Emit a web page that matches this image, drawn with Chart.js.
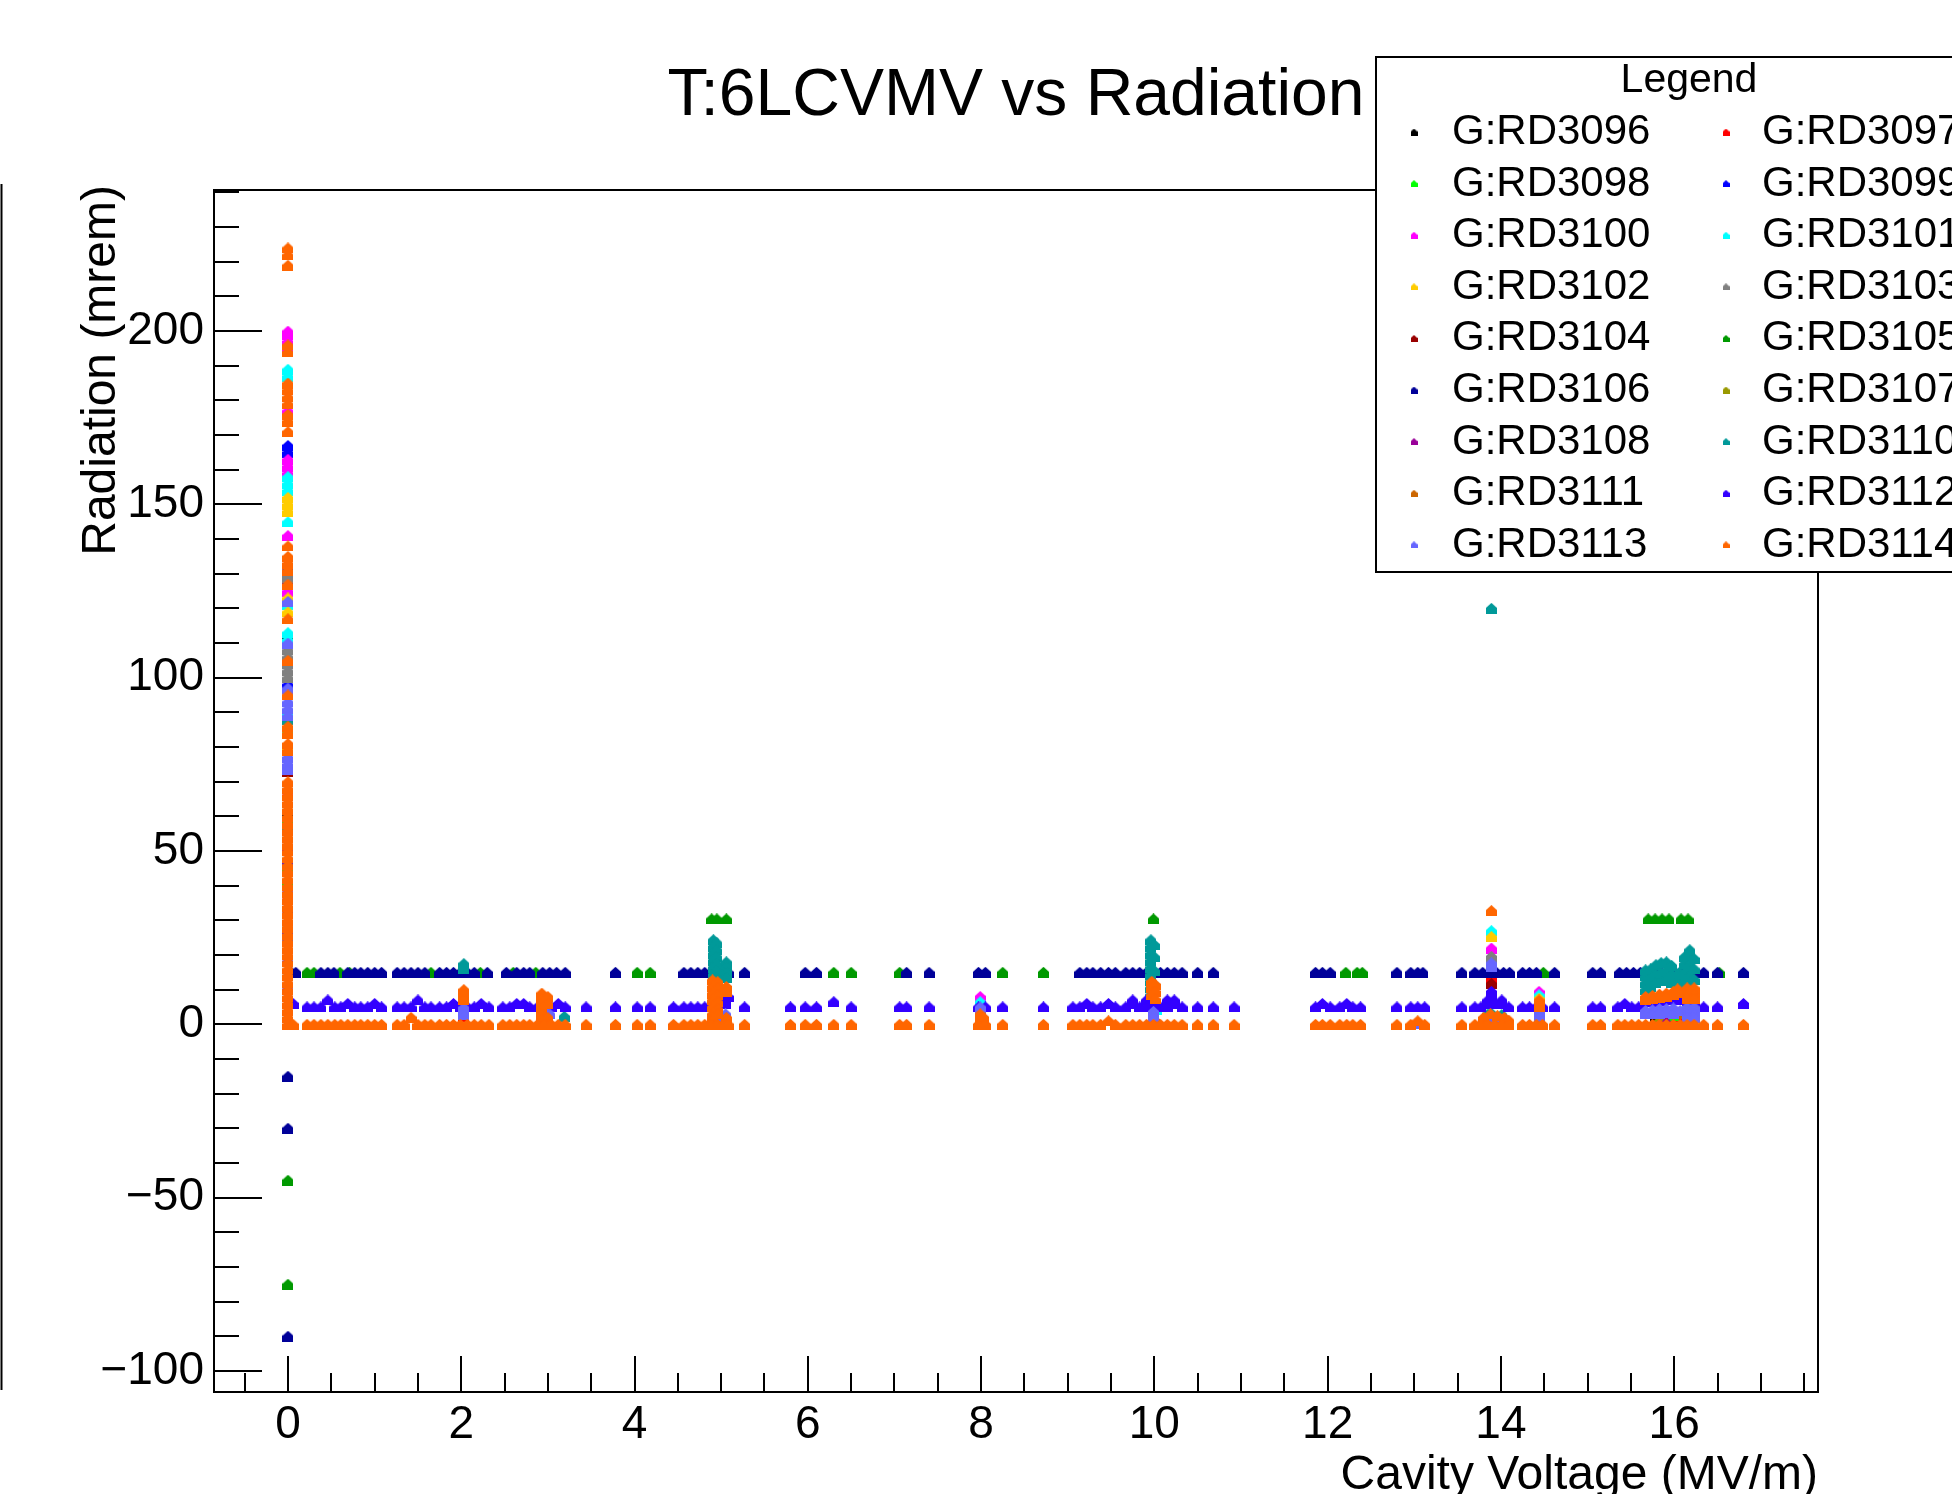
<!DOCTYPE html>
<html><head><meta charset="utf-8">
<script src="https://cdn.jsdelivr.net/npm/chart.js@4.4.1/dist/chart.umd.min.js"></script>
<style>html,body{margin:0;padding:0;background:#fff;overflow:hidden}#wrap{width:1952px;height:1494px;position:relative}</style>
</head><body><div id="wrap"><canvas id="c" width="1952" height="1494"></canvas></div>
<script>
const FONT = '"Liberation Sans", Arial, Helvetica, sans-serif';
const chartTitle = 'T:6LCVMV vs Radiation';
const xTitle = 'Cavity Voltage (MV/m)';
const yTitle = 'Radiation (mrem)';
const legendTitle = 'Legend';

const seriesNames = ['G:RD3096','G:RD3097','G:RD3098','G:RD3099','G:RD3100','G:RD3101','G:RD3102','G:RD3103','G:RD3104','G:RD3105','G:RD3106','G:RD3107','G:RD3108','G:RD3110','G:RD3111','G:RD3112','G:RD3113','G:RD3114'];
const seriesColors = ['#000000','#ff0000','#00ff00','#0000ff','#ff00ff','#00ffff','#ffcc00','#808080','#990000','#009900','#000099','#999900','#990099','#009999','#cc6600','#3300ff','#6666ff','#ff6600'];

// Cavity voltages where the low bands (G:RD3112 ~5, G:RD3114 ~0) were sampled
const voltage = [
 0.06,0.22,0.30,0.38,0.46,0.54,0.61,0.69,0.77,0.84,
 0.92,1.00,1.08,1.26,1.34,1.42,1.50,1.58,1.65,1.75,
 1.83,1.91,1.99,2.07,2.15,2.23,2.32,2.48,2.56,2.64,
 2.72,2.79,2.88,2.96,3.04,3.12,3.20,3.44,3.78,4.03,
 4.18,4.45,4.57,4.65,4.73,4.81,4.89,4.96,5.03,5.08,
 5.27,5.80,5.97,6.10,6.30,6.50,7.06,7.14,7.40,7.97,
 8.05,8.25,8.72,9.06,9.14,9.22,9.29,9.38,9.47,9.55,
 9.67,9.75,9.83,9.91,9.99,10.07,10.15,10.23,10.32,10.50,
 10.68,10.92,11.86,11.94,12.03,12.14,12.22,12.29,12.38,12.80,
 12.96,13.04,13.12,13.55,13.70,13.77,13.85,13.93,14.01,14.09,
 14.25,14.33,14.41,14.48,14.62,15.06,15.15,15.35,15.43,15.51,
 15.59,15.67,15.75,15.83,15.91,15.99,16.07,16.15,16.23,16.34,
 16.50,16.80];
const band0_RD3114 = [
 0,0,0,0,0,0,0,0,0,0,
 0,0,0,0,0,2,0,0,0,0,
 0,0,0,0,0,0,0,0,0,0,
 0,0,0,0,0,0,0,0,0,0,
 0,0,0,0,0,0,0,0,0,0,
 0,0,0,0,0,0,0,0,0,0,
 0,0,0,0,0,0,0,0,1,0,
 0,0,0,0,0,0,0,0,0,0,
 0,0,0,0,0,0,0,0,0,0,
 0,1,0,0,0,0,0,0,0,0,
 0,0,0,0,0,0,0,0,0,0,
 0,0,0,0,0,0,0,0,0,0,
 0,0];
const band5_RD3112 = [
 6,5,5,5,7,5,5,6,5,5,
 5,6,5,5,5,5,7,5,5,5,
 5,6,5,5,5,6,5,5,5,6,
 6,5,5,6,5,6,5,5,5,5,
 5,5,5,5,5,5,5,5,7,8,
 5,5,5,5,6.5,5,5,5,5,5,
 5,5,5,5,5,6,5,5,6,5,
 5,6,5,5,6,5,5,6,5,5,
 5,5,5,6,5,5,6,5,5,5,
 5,5,5,5,5,5,6,6,6,5,
 5,5,5,5,5,5,5,5,6,5,
 5,6.5,6.6,6.8,7,7,7,6.8,6.5,5,
 5,6];

// Other readings per gauge: [cavity voltage, radiation]
const RD3096 = [[0,112],[0,61],[2.97,1.9],[13.89,12.3],[15.79,1.5],[10.0,0.8]];
const RD3097 = [[0,66],[0,36],[2.03,2.3],[13.89,13.8],[13.89,13],[15.91,2],[16.07,2.2]];
const RD3098 = [[0,84],[0,59],[0,41],[7.99,2.5],[15.83,3],[15.99,2.6],[13.89,2.2]];
const RD3099 = [[0,167],[0,165],[0,128],[0,98],[0,56],[0,24]];
const RD3100 = [[0,200],[0,199],[0,197],[0,195],[0,177],[0,163],[0,161],[0,159],[0,141],[0,125],[13.89,22],[14.44,9.5],[7.99,8],[5.01,9.2]];
const RD3101 = [[0,189],[0,187],[0,158],[0,156],[0,154],[0,145],[0,121],[0,113],[0,111],[0,90],[13.89,27],[14.44,8.5],[5.01,8.5],[7.99,6.5],[10.02,4.3],[16.15,6]];
const RD3102 = [[0,152],[0,150],[0,148],[0,123],[0,119],[0,80],[13.89,25.3],[7.99,4.5],[14.44,7.5]];
const RD3103 = [[0,130],[0,129],[0,108],[0,106],[0,104],[0,102],[0,100],[13.89,19.6],[13.89,18.8],[2.97,2.6],[16.15,1]];
const RD3104 = [[0,73],[0,32],[13.89,11.8],[10.0,1.2]];
const RD3105 = [[4.89,30.4],[4.95,30.4],[5.06,30.4],[9.99,30.4],[15.70,30.4],[15.78,30.4],[15.86,30.4],[15.94,30.4],[16.08,30.4],[16.16,30.4],
 [0.22,15],[0.30,15],[0.60,15],[0.71,15],[1.65,15],[2.22,15],[2.60,15],[2.86,15],[4.03,15],[4.18,15],[6.30,15],[6.50,15],[7.06,15],[8.25,15],[8.72,15],[12.21,15],[12.34,15],[12.40,15],[14.49,15],[16.52,15],
 [0,-45],[0,-75]];
const RD3106 = [[0.04,15],[0.09,15],[0.38,15],[0.46,15],[0.53,15],[0.69,15],[0.77,15],[0.84,15],[0.92,15],[1.00,15],[1.08,15],[1.26,15],[1.34,15],[1.42,15],[1.50,15],[1.58,15],
 [1.75,15],[1.83,15],[1.91,15],[1.99,15],[2.07,15],[2.15,15],[2.30,15],[2.52,15],[2.64,15],[2.72,15],[2.79,15],[2.94,15],[3.02,15],[3.10,15],[3.20,15],[3.78,15],
 [4.57,15],[4.65,15],[4.73,15],[4.81,15],[4.89,15],[4.96,15],[5.03,15],[5.08,15],[5.27,15],[5.97,15],[6.10,15],[7.14,15],[7.40,15],[7.97,15],[8.05,15],
 [9.14,15],[9.22,15],[9.29,15],[9.38,15],[9.47,15],[9.55,15],[9.67,15],[9.75,15],[9.83,15],[9.91,15],[9.99,15],[10.07,15],[10.15,15],[10.23,15],[10.32,15],[10.50,15],[10.68,15],
 [11.86,15],[11.94,15],[12.03,15],[12.80,15],[12.96,15],[13.04,15],[13.10,15],[13.55,15],[13.70,15],[13.79,15],[13.87,15],[13.95,15],[14.03,15],[14.10,15],[14.25,15],[14.33,15],[14.41,15],[14.62,15],
 [15.06,15],[15.15,15],[15.37,15],[15.45,15],[15.53,15],[15.61,15],[15.69,15],[15.77,15],[15.85,15],[15.93,15],[16.01,15],[16.09,15],[16.17,15],[16.24,15],[16.34,15],[16.50,15],[16.80,15],
 [0,-15],[0,-30],[0,-90],[0,131]];
const RD3107 = [[0,45],[15.83,1],[13.89,1]];
const RD3108 = [[0,51],[13.85,0.5],[15.91,0.5],[9.99,0.5]];
const RD3110 = [[0,57],[0,88],[2.03,17.5],[2.03,16.2],[3.19,2.3],
 [4.91,24.4],[4.91,22.5],[4.91,20.5],[4.91,18.5],[4.91,16.5],[4.91,14.5],[4.95,23.5],[4.95,21.5],[4.95,19.5],[4.95,17.5],[4.95,15.5],[4.95,13.5],[5.06,18],[5.06,16.5],[5.06,15],[5.06,13.5],
 [9.96,24.4],[9.96,22.5],[9.96,20.5],[9.96,18.5],[9.96,16.5],[9.96,14.5],[9.96,12.5],[9.96,10.5],[9.96,8.5],[10.0,23],[10.0,19.5],[10.0,15.5],[10.0,11.5],
 [13.89,120],[13.89,3.2],[13.85,3],[14.01,2.8],
 [15.67,10],[15.67,12],[15.67,14],[15.67,15.7],[15.73,11],[15.73,13.5],[15.73,16],[15.79,17.2],[15.79,14.5],[15.79,12],[15.85,12.5],[15.85,15],[15.85,17.8],
 [15.91,13],[15.91,15.5],[15.91,18],[15.97,12],[15.97,14.5],[15.97,17],[16.06,11],[16.06,13],[16.06,15],[16.12,10],[16.12,12.5],[16.12,15],[16.12,17.5],[16.12,19.5],
 [16.18,11],[16.18,14],[16.18,17],[16.18,20],[16.18,21.5],[16.23,10],[16.23,13],[16.23,16],[16.23,19]];
const RD3111 = [[0,28],[0,14],[16.07,3.2],[4.96,1]];
const RD3112 = [[0.03,6],[0,47],[0,38],[0,27],[0,18],[0,10],[13.89,9.5],[13.89,8],[13.85,7],[14.01,7],[13.89,6.5],[5.05,7],[5.05,6],[9.75,7],[9.91,7],[10.15,7],[10.23,7]];
const RD3113 = [[0,97],[0,95],[0,93],[0,91],[0,89],[0,77],[0,75],[0,73.5],[0,122],[0,110],
 [2.03,4.8],[2.03,3.8],[2.03,2.8],[2.95,4.5],[2.95,3.5],[3.02,3],
 [4.93,3.3],[4.93,2.3],[4.93,1.3],[5.05,3],[5.05,2],
 [7.99,5],[7.99,4],[7.99,3],[7.99,2],[8.03,1.5],
 [9.99,3.7],[9.99,2.8],[9.99,1.9],
 [13.89,17.7],[13.89,16.8],[13.85,2],[13.89,1.5],[14.01,1],
 [14.44,4],[14.44,3],[14.44,2],
 [15.67,4],[15.67,3],[15.75,4.2],[15.75,3],[15.83,4.5],[15.83,3.2],[15.91,4.5],[15.91,3.5],[15.99,4.7],[15.99,3],[16.07,4],
 [16.15,5],[16.15,4],[16.15,3],[16.15,2],[16.23,5],[16.23,4],[16.23,3],[16.23,2],[13.04,0.3]];
const RD3114 = [[0,224],[0,222],[0,219],[0,196],[0,194],[0,185],[0,183],[0,181],[0,179],[0,176],[0,174],[0,171],
 [0,138],[0,135],[0,133],[0,131],[0,127],[0,117],[0,105],[0,95],[0,86],[0,84],[0,81],[0,79],
 [0,70],[0,68],[0,66],[0,64],[0,62],[0,60],[0,58],[0,56],[0,54],[0,52],[0,50],[0,48],[0,46],[0,44],[0,42],[0,40],[0,38],[0,36],
 [0,34],[0,32],[0,30],[0,28],[0,26],[0,24],[0,22],[0,20],[0,18],[0,16],[0,14],[0,12],[0,10],[0,8],[0,6],[0,4],[0,2],[0,0],
 [2.03,10],[2.03,8.5],[2.03,7],
 [2.93,9],[2.93,7.5],[2.93,6],[2.93,4.5],[2.93,3],[2.93,1.5],[3.0,8],[3.0,6],[3.0,2],
 [4.90,12.8],[4.90,11],[4.90,9],[4.90,7],[4.90,5],[4.90,3],[4.90,1.5],[4.96,12.3],[4.96,10.5],[4.96,8.5],[4.96,6.5],[4.96,4.5],[4.96,3],[5.06,10.9],[5.06,9.5],[5.06,2],[5.06,1],
 [7.99,3],[7.99,1.5],[8.03,2],
 [9.97,12.4],[9.97,10.5],[9.97,8.5],[10.01,11.5],[10.01,9.5],[10.01,7.3],
 [13.89,32.8],[13.80,2],[13.88,3],[13.96,2.5],[14.04,2],[14.09,1.2],
 [14.44,7],[14.44,6],[14.44,5],
 [15.67,8],[15.67,7],[15.75,8.3],[15.75,7.3],[15.83,8.7],[15.83,7.7],[15.91,9],[15.91,8],[15.99,9.5],[15.99,8.5],[16.04,10.2],[16.04,9.2],
 [16.15,10.5],[16.15,9.5],[16.15,8.5],[16.15,7.5],[16.23,10.5],[16.23,9.5],[16.23,8.5],[16.23,7.5]];

const seriesPoints = [RD3096,RD3097,RD3098,RD3099,RD3100,RD3101,RD3102,RD3103,RD3104,RD3105,RD3106,RD3107,RD3108,RD3110,RD3111,RD3112,RD3113,RD3114];

const xMin = -0.854, xMax = 17.66, yMin = -106.1, yMax = 240.7;

// small "house" shaped marker like the ROOT dot marker
function makeMarker(color, w, h) {
  const cv = document.createElement('canvas');
  cv.width = w; cv.height = h;
  const g = cv.getContext('2d');
  g.fillStyle = color;
  g.beginPath();
  g.moveTo(0, h); g.lineTo(0, h * 0.45); g.lineTo(w / 2, 0); g.lineTo(w, h * 0.45); g.lineTo(w, h);
  g.closePath(); g.fill();
  return cv;
}

const datasets = seriesNames.map((name, i) => {
  const pts = seriesPoints[i].map(p => ({x: p[0], y: p[1]}));
  if (name === 'G:RD3112') voltage.forEach((v, k) => pts.push({x: v, y: band5_RD3112[k]}));
  if (name === 'G:RD3114') voltage.forEach((v, k) => pts.push({x: v, y: band0_RD3114[k]}));
  return {label: name, data: pts, backgroundColor: seriesColors[i], borderColor: seriesColors[i],
    pointRadius: 5.5, pointHoverRadius: 5.5, pointBorderWidth: 0,
    pointStyle: makeMarker(seriesColors[i], 11, 11),
    order: seriesNames.length - 1 - i};
});

const bgPlugin = {id: 'bg', beforeDraw(chart) {
  const c = chart.ctx; c.save(); c.fillStyle = '#fff'; c.fillRect(0, 0, chart.width, chart.height); c.restore();
}};

const framePlugin = {id: 'frame', afterDatasetsDraw(chart) {
  const c = chart.ctx, a = chart.chartArea, xs = chart.scales.x, ys = chart.scales.y;
  c.save();
  c.strokeStyle = '#000'; c.lineWidth = 2;
  c.strokeRect(a.left, a.top, a.right - a.left, a.bottom - a.top);
  c.lineWidth = 2;
  c.beginPath();
  for (let k = -1; k <= 35; k++) {
    const v = k * 0.5; if (v < xMin || v > xMax) continue;
    const px = Math.round(xs.getPixelForValue(v));
    const len = (k % 4 === 0) ? 36 : 19;
    c.moveTo(px, a.bottom); c.lineTo(px, a.bottom - len);
  }
  for (let k = -10; k <= 24; k++) {
    const v = k * 10; if (v < yMin || v > yMax) continue;
    const py = Math.round(ys.getPixelForValue(v));
    const len = (k % 5 === 0) ? 48 : 25;
    c.moveTo(a.left, py); c.lineTo(a.left + len, py);
  }
  c.stroke();
  // stray frame edge at the far left of the picture
  c.beginPath(); c.moveTo(1.5, 184); c.lineTo(1.5, 1390); c.stroke();
  c.restore();
}};

const textPlugin = {id: 'texts', afterDraw(chart) {
  const c = chart.ctx, a = chart.chartArea;
  c.save();
  c.fillStyle = '#000'; c.textBaseline = 'alphabetic';
  c.font = '66px ' + FONT; c.textAlign = 'center';
  c.fillText(chartTitle, (a.left + a.right) / 2, 115);
  c.font = '48px ' + FONT; c.textAlign = 'right';
  c.fillText(xTitle, a.right, 1489);
  c.translate(115, a.top - 5); c.rotate(-Math.PI / 2);
  c.textAlign = 'right';
  c.fillText(yTitle, 0, 0);
  c.restore();

  // legend box
  c.save();
  c.fillStyle = '#fff'; c.fillRect(1376, 57, 700, 515);
  c.strokeStyle = '#000'; c.lineWidth = 2; c.strokeRect(1376, 57, 700, 515);
  c.fillStyle = '#000'; c.font = '41px ' + FONT; c.textAlign = 'center'; c.textBaseline = 'alphabetic';
  c.fillText(legendTitle, 1689, 92);
  c.font = '42px ' + FONT;
  c.textAlign = 'left';
  seriesNames.forEach((n, i) => {
    const col = i % 2, row = Math.floor(i / 2);
    const by = 144 + row * 51.6;
    const mx = col ? 1726 : 1414, tx = col ? 1762 : 1452;
    c.drawImage(makeMarker(seriesColors[i], 7, 7), mx - 3.5, by - 15.5);
    c.fillStyle = '#000';
    c.fillText(n, tx, by);
  });
  c.restore();
}};

const fmt = v => (v < 0 ? '\u2212' + Math.abs(v) : String(v));

new Chart(document.getElementById('c').getContext('2d'), {
  type: 'scatter',
  data: {datasets},
  options: {
    responsive: false, animation: false, devicePixelRatio: 1,
    layout: {padding: {left: 0, top: 190, right: 134, bottom: 0}},
    plugins: {legend: {display: false}, title: {display: false}, tooltip: {enabled: false}},
    events: [],
    scales: {
      x: {type: 'linear', min: xMin, max: xMax,
        afterFit(s) { s.height = 102; },
        grid: {display: false, drawTicks: false}, border: {display: false},
        ticks: {stepSize: 2, includeBounds: false, autoSkip: false, maxRotation: 0, padding: 6,
          color: '#000', font: {family: FONT, size: 46}, callback: fmt}},
      y: {type: 'linear', min: yMin, max: yMax,
        afterFit(s) { s.width = 214; },
        grid: {display: false, drawTicks: false}, border: {display: false},
        ticks: {stepSize: 50, includeBounds: false, autoSkip: false, padding: 10,
          color: '#000', font: {family: FONT, size: 46}, callback: fmt}}
    }
  },
  plugins: [bgPlugin, framePlugin, textPlugin]
});
</script></body></html>
